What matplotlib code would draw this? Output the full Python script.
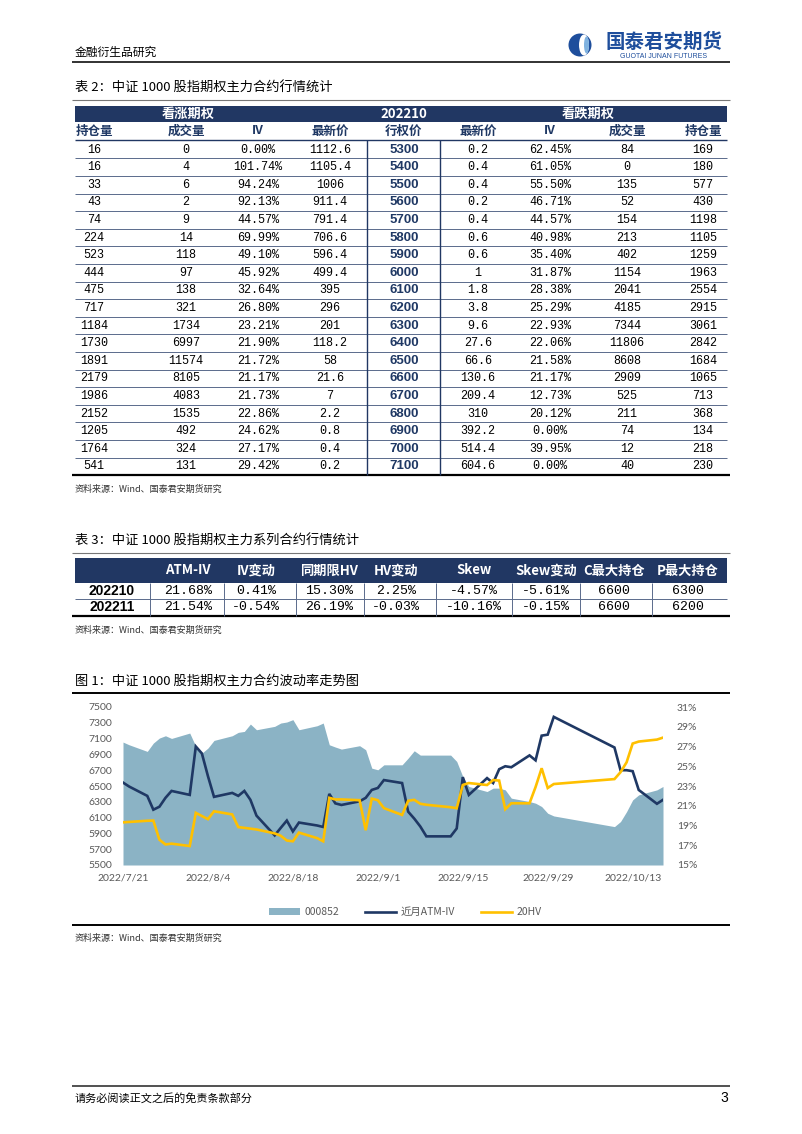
import matplotlib
matplotlib.use('Agg')
import matplotlib.pyplot as plt
import matplotlib.dates as mdates
from matplotlib.patches import Rectangle, Circle, Ellipse
from matplotlib.lines import Line2D
from matplotlib.ticker import FuncFormatter, FixedLocator
import datetime as dt

CJK = ['Noto Sans CJK SC', 'DejaVu Sans']
plt.rcParams['font.family'] = CJK

# ---------------- data: table 2 ----------------
t2_group = ['看涨期权', '202210', '看跌期权']
t2_cols = ['持仓量', '成交量', 'IV', '最新价', '行权价', '最新价', 'IV', '成交量', '持仓量']
call_oi = [16, 16, 33, 43, 74, 224, 523, 444, 475, 717, 1184, 1730, 1891, 2179, 1986, 2152, 1205, 1764, 541]
call_vol = [0, 4, 6, 2, 9, 14, 118, 97, 138, 321, 1734, 6997, 11574, 8105, 4083, 1535, 492, 324, 131]
call_iv = [0.00, 101.74, 94.24, 92.13, 44.57, 69.99, 49.10, 45.92, 32.64, 26.80, 23.21, 21.90, 21.72, 21.17,
           21.73, 22.86, 24.62, 27.17, 29.42]
call_px = [1112.6, 1105.4, 1006, 911.4, 791.4, 706.6, 596.4, 499.4, 395, 296, 201, 118.2, 58, 21.6, 7, 2.2, 0.8, 0.4, 0.2]
strikes = [5300, 5400, 5500, 5600, 5700, 5800, 5900, 6000, 6100, 6200, 6300, 6400, 6500, 6600, 6700, 6800, 6900, 7000, 7100]
put_px = [0.2, 0.4, 0.4, 0.2, 0.4, 0.6, 0.6, 1, 1.8, 3.8, 9.6, 27.6, 66.6, 130.6, 209.4, 310, 392.2, 514.4, 604.6]
put_iv = [62.45, 61.05, 55.50, 46.71, 44.57, 40.98, 35.40, 31.87, 28.38, 25.29, 22.93, 22.06, 21.58, 21.17,
          12.73, 20.12, 0.00, 39.95, 0.00]
put_vol = [84, 0, 135, 52, 154, 213, 402, 1154, 2041, 4185, 7344, 11806, 8608, 2909, 525, 211, 74, 12, 40]
put_oi = [169, 180, 577, 430, 1198, 1105, 1259, 1963, 2554, 2915, 3061, 2842, 1684, 1065, 713, 368, 134, 218, 230]

# ---------------- data: table 3 ----------------
t3_cols = ['', 'ATM-IV', 'IV变动', '同期限HV', 'HV变动', 'Skew', 'Skew变动', 'C最大持仓', 'P最大持仓']
t3_series = ['202210', '202211']
t3_atm_iv = [21.68, 21.54]
t3_iv_chg = [0.41, -0.54]
t3_hv = [15.30, 26.19]
t3_hv_chg = [2.25, -0.03]
t3_skew = [-4.57, -10.16]
t3_skew_chg = [-5.61, -0.15]
t3_c_max = [6600, 6600]
t3_p_max = [6300, 6200]

# ---------------- data: chart ----------------
date_str = ['2022-07-21', '2022-07-22', '2022-07-25', '2022-07-26', '2022-07-27', '2022-07-28', '2022-07-29',
            '2022-08-01', '2022-08-02', '2022-08-03', '2022-08-04', '2022-08-05', '2022-08-08', '2022-08-09',
            '2022-08-10', '2022-08-11', '2022-08-12', '2022-08-15', '2022-08-16', '2022-08-17', '2022-08-18',
            '2022-08-19', '2022-08-22', '2022-08-23', '2022-08-24', '2022-08-25', '2022-08-26', '2022-08-29',
            '2022-08-30', '2022-08-31', '2022-09-01', '2022-09-02', '2022-09-05', '2022-09-06', '2022-09-07',
            '2022-09-08', '2022-09-09', '2022-09-13', '2022-09-14', '2022-09-15', '2022-09-16', '2022-09-19',
            '2022-09-20', '2022-09-21', '2022-09-22', '2022-09-23', '2022-09-26', '2022-09-27', '2022-09-28',
            '2022-09-29', '2022-09-30', '2022-10-10', '2022-10-11', '2022-10-12', '2022-10-13', '2022-10-14',
            '2022-10-17', '2022-10-18']
idx_000852 = [7056, 7022, 6938, 7043, 7107, 7136, 7102,
              7170, 7001, 6916, 6980, 7077, 7136, 7179, 7191, 7284, 7212, 7255, 7297, 7310, 7340, 7212, 7263, 7297,
              7022, 6993, 6967, 7010, 6959, 6726,
              6705, 6768, 6768, 6853, 6946, 6891, 6891, 6891, 6811, 6620, 6494, 6430, 6473, 6473, 6451, 6346, 6303,
              6282, 6240, 6155, 6121,
              5986, 6050, 6176, 6324, 6388, 6451, 6494]
atm_iv = [23.35, 22.95, 22.0, 20.6, 20.9, 21.8, 22.5,
          22.1, 27.0, 26.3, 24.0, 21.9, 22.3, 22.0, 22.5, 21.6, 20.0, 18.0, 18.76, 19.5, 18.4, 19.3, 19.0, 18.85,
          22.2, 21.24, 21.08, 21.45, 21.8, 22.6,
          22.8, 23.6, 23.3, 20.4, 19.7, 18.9, 17.9, 17.9, 18.7, 23.9, 22.1, 23.8, 23.3, 24.7, 25.0, 24.9, 26.1,
          25.6, 28.1, 28.2, 30.0,
          26.9, 24.6, 24.6, 24.5, 22.6, 21.2, 21.6]
hv20 = [19.32, 19.36, 19.48, 19.5, 17.56, 17.08, 17.16,
        16.92, 20.28, 19.96, 19.64, 20.44, 20.12, 18.84, 18.76, 18.68, 18.6, 18.2, 17.96, 17.48, 17.4, 18.28, 17.72,
        17.4, 21.8, 21.64, 21.64, 21.56, 18.52, 21.72,
        21.56, 20.76, 20.07, 21.5, 21.6, 21.2, 21.1, 20.85, 20.75, 23.1, 23.3, 23.1, 23.6, 23.55, 20.65, 21.25,
        21.25, 22.9, 24.8, 22.8, 23.2,
        23.7, 24.4, 25.4, 27.3, 27.5, 27.7, 27.9]
series_names = ['000852', '近月ATM-IV', '20HV']
left_ticks = [5500, 5700, 5900, 6100, 6300, 6500, 6700, 6900, 7100, 7300, 7500]
right_ticks = [15, 17, 19, 21, 23, 25, 27, 29, 31]
x_tick_str = ['2022-07-21', '2022-08-04', '2022-08-18', '2022-09-01', '2022-09-15', '2022-09-29', '2022-10-13']

# ---------------- styles ----------------
NAVY = '#213763'
NAVY_T = '#1F3864'
AREA = '#8BB3C5'
GOLD = '#FFC000'
GRAY = '#595959'
LOGO = '#1E4E9C'
MONO = 'Liberation Mono'
SANS = 'Liberation Sans'

W, H = 802, 1134
fig = plt.figure(figsize=(W / 100, H / 100), dpi=100)
page = fig.add_axes([0, 0, 1, 1])
page.set_xlim(0, W)
page.set_ylim(H, 0)
page.axis('off')


def T(x, y, s, size=9, color='black', ha='left', weight='normal', family=None):
    page.text(x, y, s, fontsize=size, color=color, ha=ha, va='center', fontweight=weight,
              family=family if family is not None else CJK)


def HL(y, x0=72, x1=730, lw=1.0, color='black'):
    page.plot([x0, x1], [y, y], color=color, lw=lw, solid_capstyle='butt')


def VL(x, y0, y1, lw=1.0, color='black'):
    page.plot([x, x], [y0, y1], color=color, lw=lw, solid_capstyle='butt')


def fmt_num(v):
    return f"{v:g}"


# ---------------- header ----------------
T(75, 52, '金融衍生品研究', size=8.5)
HL(62, lw=1.3, color='#222222')
page.add_patch(Circle((580, 45), 11.5, color=LOGO, lw=0))
page.add_patch(Ellipse((584, 45), 10, 21, color='white', lw=0))
page.add_patch(Ellipse((586.5, 45), 5, 17, color='#7FB2E0', lw=0))
T(664, 42, '国泰君安期货', size=14, color=LOGO, ha='center', weight='bold')
T(664, 56.5, 'GUOTAI JUNAN FUTURES', size=5, color=LOGO, ha='center', family=SANS)

# ---------------- table 2 ----------------
T(75, 88, '表 2：中证 1000 股指期权主力合约行情统计', size=9.5)
HL(100, lw=0.8, color='#777777')
page.add_patch(Rectangle((75, 106), 652, 16, color=NAVY, lw=0))
for x, s in zip([188, 404, 588], t2_group):
    T(x, 114, s, size=9.5, color='white', ha='center', weight='bold')
t2_x = [94, 186, 258, 330, 404, 478, 550, 627, 703]
for x, s in zip(t2_x, t2_cols):
    T(x, 131, s, size=9, color=NAVY_T, ha='center', weight='bold')
HL(140, x0=75, x1=727, lw=1.0, color=NAVY)
row0, rh = 149.6, 17.6
n = len(strikes)
for i in range(n):
    y = row0 + rh * i
    vals = [str(call_oi[i]), str(call_vol[i]), f"{call_iv[i]:.2f}%", fmt_num(call_px[i]), None,
            fmt_num(put_px[i]), f"{put_iv[i]:.2f}%", str(put_vol[i]), str(put_oi[i])]
    for j, (x, s) in enumerate(zip(t2_x, vals)):
        if j == 4:
            T(x, y, str(strikes[i]), size=9.5, color=NAVY_T, ha='center', weight='bold', family=SANS)
        else:
            T(x, y, s, size=8.5, ha='center', family=MONO)
    if i < n - 1:
        HL(y + rh / 2, x0=75, x1=727, lw=0.7, color='#5A6B8C')
HL(row0 + rh * (n - 0.5), lw=1.6, color='black')
for x in [367, 440]:
    VL(x, 140, row0 + rh * (n - 0.5), lw=1.0, color=NAVY)
T(75, 489, '资料来源：Wind、国泰君安期货研究', size=6.5, color='#333333')

# ---------------- table 3 ----------------
T(75, 541, '表 3：中证 1000 股指期权主力系列合约行情统计', size=9.5)
HL(553, lw=0.8, color='#777777')
page.add_patch(Rectangle((75, 558), 652, 25, color=NAVY, lw=0))
t3_x = [112, 188, 256, 329, 396, 474, 546, 614, 688]
for x, s in zip(t3_x, t3_cols):
    if s:
        T(x, 570.5, s, size=9.5, color='white', ha='center', weight='bold')
t3_rows_y = [591, 607]
for i, lab in enumerate(t3_series):
    y = t3_rows_y[i]
    vals = [f"{t3_atm_iv[i]:.2f}%", f"{t3_iv_chg[i]:.2f}%", f"{t3_hv[i]:.2f}%", f"{t3_hv_chg[i]:.2f}%",
            f"{t3_skew[i]:.2f}%", f"{t3_skew_chg[i]:.2f}%", str(t3_c_max[i]), str(t3_p_max[i])]
    T(t3_x[0], y, lab, size=10, ha='center', weight='bold', family=SANS)
    for x, s in zip(t3_x[1:], vals):
        T(x, y, s, size=9.5, ha='center', family=MONO)
HL(599, x0=75, x1=727, lw=0.7, color='#5A6B8C')
HL(616, lw=1.6, color='black')
for x in [150, 224, 296, 364, 436, 512, 580, 652]:
    VL(x, 583, 616, lw=0.7, color='#5A6B8C')
T(75, 630, '资料来源：Wind、国泰君安期货研究', size=6.5, color='#333333')

# ---------------- figure 1 ----------------
T(75, 681, '图 1：中证 1000 股指期权主力合约波动率走势图', size=9.5)
HL(693, lw=1.4, color='black')

dates = [dt.datetime.strptime(s, '%Y-%m-%d') for s in date_str]
ax = fig.add_axes([123 / W, 1 - 865 / H, 540 / W, 158 / H])
ax.patch.set_alpha(0)
ax.fill_between(dates, left_ticks[0], idx_000852, color=AREA, lw=0, zorder=1)
ax.set_ylim(left_ticks[0], left_ticks[-1])
ax.set_yticks(left_ticks)
ax.set_xlim(dates[0], dates[-1])
ax.xaxis.set_major_locator(FixedLocator(mdates.date2num([dt.datetime.strptime(s, '%Y-%m-%d') for s in x_tick_str])))
ax.xaxis.set_major_formatter(FuncFormatter(
    lambda v, p: (lambda d: f"{d.year}/{d.month}/{d.day}")(mdates.num2date(v))))
ax2 = ax.twinx()
ax2.plot(dates, atm_iv, color=NAVY_T, lw=1.9, zorder=3, solid_joinstyle='miter')
ax2.plot(dates, hv20, color=GOLD, lw=1.9, zorder=4, solid_joinstyle='miter')
ax2.set_ylim(right_ticks[0], right_ticks[-1])
ax2.set_yticks(right_ticks)
ax2.yaxis.set_major_formatter(FuncFormatter(lambda v, p: f"{v:.0f}%"))
for a in (ax, ax2):
    for sp in a.spines.values():
        sp.set_visible(False)
ax.tick_params(axis='y', length=0, labelsize=7.5, colors=GRAY, pad=8)
ax.tick_params(axis='x', length=0, labelsize=7.5, colors=GRAY, pad=6)
ax2.tick_params(axis='y', length=0, labelsize=7.5, colors=GRAY, pad=10)
for lab in ax.get_xticklabels() + ax.get_yticklabels() + ax2.get_yticklabels():
    lab.set_family('Lato')

handles = [Rectangle((0, 0), 1, 1, color=AREA, lw=0),
           Line2D([0], [0], color=NAVY_T, lw=1.9),
           Line2D([0], [0], color=GOLD, lw=1.9)]
leg = fig.legend(handles, series_names, loc='center', bbox_to_anchor=(405 / W, 1 - 912 / H), ncol=3,
                 frameon=False, fontsize=7.5, handlelength=3.0, handleheight=0.6, columnspacing=2.5,
                 handletextpad=0.4)
for t in leg.get_texts():
    t.set_color(GRAY)

HL(925, lw=1.4, color='black')
T(75, 938, '资料来源：Wind、国泰君安期货研究', size=6.5, color='#333333')

# ---------------- footer ----------------
HL(1086, lw=1.2, color='#333333')
T(75, 1098, '请务必阅读正文之后的免责条款部分', size=8)
T(728, 1098, '3', size=10, ha='right', family=SANS)

fig.savefig('out.png', dpi=100)
